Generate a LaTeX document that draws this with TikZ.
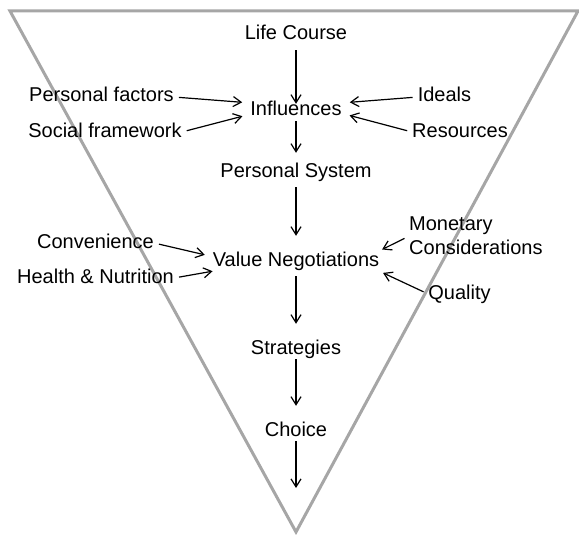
\documentclass[tikz,border=0pt]{standalone}
\usepackage{fontspec}
\setmainfont{Liberation Sans}
\usepackage{tikz}
\usetikzlibrary{positioning,arrows.meta}
\definecolor{funnelgray}{RGB}{166,166,166}
\tikzstyle{txt} = [inner sep=0pt, font=\fontsize{20}{24}\selectfont, anchor=base]
\tikzstyle{item} = [txt, text height=15pt, text depth=5pt]
\tikzstyle{line} = [draw, line width=1.2pt, -{Straight Barb[length=8pt,width=10pt]}, shorten <=5pt, shorten >=8pt]
\tikzstyle{vline} = [line, shorten >=15pt]

\begin{document}
\begin{tikzpicture}[x=1pt, y=-1pt]
    \useasboundingbox (0,0) rectangle (579,535);
    % Funnel
    \draw [funnelgray, line width=3pt] (10,11) -- (578,11) -- (296,532) -- cycle;
    % Place nodes
    \node [item] (lifecourse) at (296,40) {Life Course};
    \node [item] (influences) at (296,116) {Influences};
    \node [item] (pfactors) at (101.5,102) {Personal factors};
    \node [item] (sframe) at (105,137) {Social framework};
    \node [item] (ideals) at (444.5,102) {Ideals};
    \node [item] (resources) at (460,137) {Resources};
    \node [item] (psystem) at (296,177) {Personal System};
    \node [item] (valueneg) at (296,266) {Value Negotiations};
    \node [item] (convenience) at (95.5,248) {Convenience};
    \node [item] (hnutrition) at (95.5,283) {Health \& Nutrition};
    \node [txt, align=left, anchor=north west] (monetary) at (409,217) {Monetary\\Considerations};
    \node [item] (quality) at (459.5,299) {Quality};
    \node [item] (strategies) at (296,354) {Strategies};
    \node [item] (choice) at (296,436) {Choice};
    \coordinate (vbottom) at (296,488);
    % Draw edges
    \path [line, shorten >=-3pt] (lifecourse) -- (influences);
    \path [line, shorten <=0pt, shorten >=9pt] (influences) -- (psystem);
    \path [line] (pfactors.east) -- (influences.170);
    \path [line] (sframe.east) -- (influences.184);
    \path [line] (ideals.west) -- (influences.10);
    \path [line] (resources.west) -- (influences.-3);
    \path [vline] (psystem) -- (valueneg);
    \path [line] (convenience.east) -- (valueneg.177);
    \path [line, shorten >=0pt] (hnutrition.east) -- (valueneg.south west);
    \path [line, shorten >=3pt] (monetary.west) -- (valueneg.north east);
    \path [line, shorten >=4pt] (quality.west) -- (valueneg.south east);
    \path [vline] (valueneg) -- (strategies);
    \path [vline, shorten <=0pt] (strategies) -- (choice);
    \path [line, shorten <=0pt, shorten >=0pt] (choice) -- (vbottom);
\end{tikzpicture}
\end{document}
